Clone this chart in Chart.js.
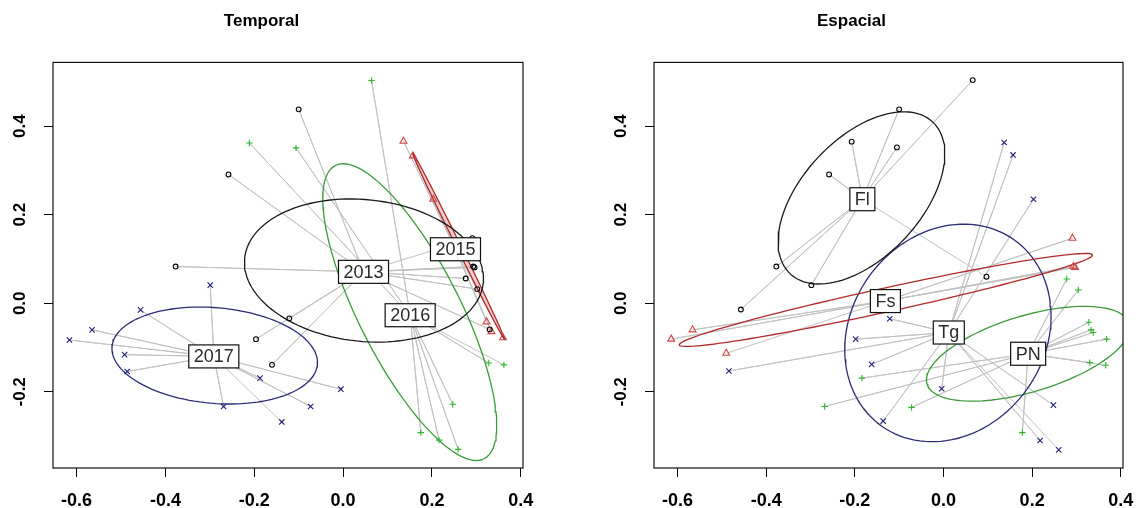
<!DOCTYPE html>
<html lang="es">
<head>
<meta charset="UTF-8">
<title>Temporal / Espacial</title>
<script src="https://cdn.jsdelivr.net/npm/chart.js"></script>
<style>
  body { margin: 0; background: #fff; width: 1141px; height: 508px; position: relative; overflow: hidden; }
  canvas { position: absolute; top: 0; }
  #temporal { left: 0; }
  #espacial { left: 580px; }
</style>
</head>
<body>
<canvas id="temporal" width="541" height="508"></canvas>
<canvas id="espacial" width="561" height="508"></canvas>
<script>
// ejes (comunes a los dos paneles)
const xTicks = [-0.6, -0.4, -0.2, 0.0, 0.2, 0.4];
const yTicks = [-0.2, 0.0, 0.2, 0.4];
const xRange = [-0.653, 0.405];
const yRange = [-0.372, 0.544];

// ---- Temporal ----
const tempGroups = ['2013', '2015', '2016', '2017'];
const t2013 = [[-0.100, 0.438], [-0.258, 0.291], [-0.377, 0.083], [0.293, 0.083], [0.296, 0.081],
               [-0.121, -0.034], [-0.196, -0.081], [-0.160, -0.139], [0.276, 0.056], [0.302, 0.032],
               [0.330, -0.059], [0.097, 0.060], [0.291, 0.147]];
const t2015 = [[0.136, 0.366], [0.157, 0.333], [0.203, 0.235], [0.323, -0.042], [0.334, -0.064], [0.360, -0.078]];
const t2016 = [[0.064, 0.503], [-0.211, 0.362], [-0.106, 0.351], [0.247, -0.228], [0.175, -0.292],
               [0.216, -0.309], [0.259, -0.330], [0.328, -0.135], [0.362, -0.139]];
const t2017 = [[-0.299, 0.041], [-0.456, -0.015], [-0.565, -0.060], [-0.616, -0.083], [-0.492, -0.116],
               [-0.486, -0.154], [-0.187, -0.169], [-0.005, -0.194], [-0.269, -0.233], [-0.073, -0.233],
               [-0.138, -0.268]];
const tempCentX = [0.046, 0.253, 0.151, -0.291];
const tempCentY = [0.071, 0.122, -0.027, -0.120];
// elipses: centro, semiejes, ángulo (grados)
const tempEllX = [0.047, 0.260, 0.150, -0.289];
const tempEllY = [0.074, 0.129, -0.020, -0.118];
const tempEllA = [0.270, 0.234, 0.371, 0.232];
const tempEllB = [0.160, 0.005, 0.114, 0.108];
const tempEllAng = [-6, -63.8, -63.2, -5];

// ---- Espacial ----
const espGroups = ['Fl', 'Fs', 'Tg', 'PN'];
const eFl = [[0.066, 0.504], [-0.100, 0.438], [-0.207, 0.365], [-0.105, 0.352], [-0.258, 0.291],
             [-0.377, 0.083], [-0.298, 0.041], [-0.457, -0.014], [0.097, 0.060]];
const eFs = [[0.291, 0.147], [0.293, 0.083], [0.297, 0.081], [-0.566, -0.060], [-0.614, -0.081], [-0.490, -0.113]];
const eTg = [[0.137, 0.363], [0.157, 0.335], [0.203, 0.235], [-0.121, -0.035], [-0.198, -0.081],
             [-0.162, -0.138], [-0.484, -0.153], [-0.136, -0.266], [-0.004, -0.193], [0.248, -0.230],
             [0.218, -0.310], [0.260, -0.331]];
const ePN = [[0.278, 0.055], [0.304, 0.030], [-0.184, -0.169], [-0.268, -0.233], [-0.072, -0.235],
             [0.178, -0.292], [0.328, -0.043], [0.333, -0.060], [0.338, -0.066], [0.368, -0.081],
             [0.330, -0.134], [0.366, -0.140]];
const espCentX = [-0.183, -0.131, 0.012, 0.191];
const espCentY = [0.235, 0.005, -0.066, -0.114];
const espEllX = [-0.185, -0.130, 0.010, 0.191];
const espEllY = [0.238, 0.0075, -0.067, -0.114];
const espEllA = [0.235, 0.477, 0.258, 0.238];
const espEllB = [0.134, 0.027, 0.219, 0.086];
const espEllAng = [46.9, 12.3, 54.7, 16.7];

// estilos
const black = { style: 'circle', r: 2.4, col: '#000000', ell: '#1a1a1a', fill: null };
const red = { style: 'triangle', r: 4, col: '#d04545', ell: '#b22a2a', fill: null };
const green = { style: 'cross', r: 3.2, col: '#2db52d', ell: '#3c9a3c', fill: null };
const navy = { style: 'crossRot', r: 3.8, col: '#20207a', ell: '#2b2b7a', fill: null };
const redFilled = Object.assign({}, red, { fill: 'rgba(225,160,160,0.55)' });

Chart.defaults.font.family = "'Liberation Sans', Arial, sans-serif";

function ellipsePts(cx, cy, a, b, deg) {
    const t = deg * Math.PI / 180;
    const pts = [];
    for (let i = 0; i <= 120; i++) {
        const u = i / 120 * 2 * Math.PI;
        pts.push({
            x: cx + a * Math.cos(u) * Math.cos(t) - b * Math.sin(u) * Math.sin(t),
            y: cy + a * Math.cos(u) * Math.sin(t) + b * Math.sin(u) * Math.cos(t)
        });
    }
    return pts;
}

// líneas de cada sitio al centroide del grupo
function spiderPts(cx, cy, pts) {
    const out = [];
    pts.forEach(p => {
        out.push({ x: cx, y: cy });
        out.push({ x: p[0], y: p[1] });
    });
    return out;
}

const boxPlugin = {
    id: 'plotBox',
    afterDraw(chart) {
        const a = chart.chartArea;
        const ctx = chart.ctx;
        ctx.save();
        ctx.strokeStyle = '#111';
        ctx.lineWidth = 1.2;
        ctx.strokeRect(a.left, a.top, a.right - a.left, a.bottom - a.top);
        ctx.restore();
    }
};

const labelPlugin = {
    id: 'groupLabels',
    afterDatasetsDraw(chart, args, opts) {
        const ctx = chart.ctx;
        const sx = chart.scales.x, sy = chart.scales.y;
        ctx.save();
        ctx.font = "18px 'Liberation Sans', Arial, sans-serif";
        ctx.textAlign = 'center';
        ctx.textBaseline = 'middle';
        opts.names.forEach((name, i) => {
            const px = sx.getPixelForValue(opts.xs[i]);
            const py = sy.getPixelForValue(opts.ys[i]);
            const w = ctx.measureText(name).width + 10;
            const h = 23;
            ctx.fillStyle = '#fff';
            ctx.fillRect(px - w / 2, py - h / 2, w, h);
            ctx.strokeStyle = '#111';
            ctx.lineWidth = 1.2;
            ctx.strokeRect(px - w / 2, py - h / 2, w, h);
            ctx.fillStyle = '#2a2a2a';
            ctx.fillText(name, px, py + 1);
        });
        ctx.restore();
    }
};

function makePanel(id, title, groups, pts, cx, cy, ex, ey, ea, eb, eang, styles, yWidth, rightPad) {
    const datasets = [];
    groups.forEach((g, i) => {
        const st = styles[i];
        datasets.push({
            label: g,
            data: pts[i].map(p => ({ x: p[0], y: p[1] })),
            pointStyle: st.style,
            pointRadius: st.r,
            pointBorderColor: st.col,
            pointBackgroundColor: 'rgba(0,0,0,0)',
            pointBorderWidth: 1.1,
            showLine: false,
            order: 0
        });
        datasets.push({
            label: g + ' elipse',
            data: ellipsePts(ex[i], ey[i], ea[i], eb[i], eang[i]),
            showLine: true,
            borderColor: st.ell,
            borderWidth: 1.3,
            pointRadius: 0,
            fill: st.fill ? 'shape' : false,
            backgroundColor: st.fill || 'rgba(0,0,0,0)',
            order: 1
        });
        datasets.push({
            label: g + ' spider',
            data: spiderPts(cx[i], cy[i], pts[i]),
            showLine: true,
            borderColor: '#c2c2c2',
            borderWidth: 1,
            pointRadius: 0,
            order: 2
        });
    });

    return new Chart(document.getElementById(id), {
        type: 'scatter',
        data: { datasets: datasets },
        options: {
            responsive: false,
            animation: false,
            devicePixelRatio: 1,
            layout: { padding: { left: 0, right: rightPad, top: 0, bottom: 0 } },
            plugins: {
                legend: { display: false },
                tooltip: { enabled: false },
                title: {
                    display: true,
                    text: title,
                    color: '#000',
                    font: { size: 17, weight: 'bold' },
                    padding: { top: 11, bottom: 31 }
                },
                groupLabels: { names: groups, xs: cx, ys: cy }
            },
            scales: {
                x: {
                    type: 'linear',
                    min: xRange[0],
                    max: xRange[1],
                    afterBuildTicks: s => { s.ticks = xTicks.map(v => ({ value: v })); },
                    afterFit: s => { s.height = 40; s.paddingLeft = 0; s.paddingRight = 0; },
                    grid: { display: true, drawOnChartArea: false, drawTicks: true, tickLength: 9, color: '#000', lineWidth: 1 },
                    border: { display: false },
                    ticks: {
                        color: '#000',
                        font: { size: 18, weight: 'bold' },
                        padding: 13,
                        maxRotation: 0,
                        autoSkip: false,
                        callback: v => v.toFixed(1)
                    }
                },
                y: {
                    type: 'linear',
                    min: yRange[0],
                    max: yRange[1],
                    afterBuildTicks: s => { s.ticks = yTicks.map(v => ({ value: v })); },
                    afterFit: s => { s.width = yWidth; s.paddingTop = 0; s.paddingBottom = 0; },
                    grid: { display: true, drawOnChartArea: false, drawTicks: true, tickLength: 9, color: '#000', lineWidth: 1 },
                    border: { display: false },
                    ticks: {
                        color: '#000',
                        font: { size: 17, weight: 'bold' },
                        padding: 9,
                        minRotation: 90,
                        maxRotation: 90,
                        crossAlign: 'center',
                        autoSkip: false,
                        callback: v => v.toFixed(1)
                    }
                }
            }
        },
        plugins: [boxPlugin, labelPlugin]
    });
}

makePanel('temporal', 'Temporal', tempGroups, [t2013, t2015, t2016, t2017],
    tempCentX, tempCentY, tempEllX, tempEllY, tempEllA, tempEllB, tempEllAng,
    [black, redFilled, green, navy], 53, 18);

makePanel('espacial', 'Espacial', espGroups, [eFl, eFs, eTg, ePN],
    espCentX, espCentY, espEllX, espEllY, espEllA, espEllB, espEllAng,
    [black, red, navy, green], 74, 18);
</script>
</body>
</html>
